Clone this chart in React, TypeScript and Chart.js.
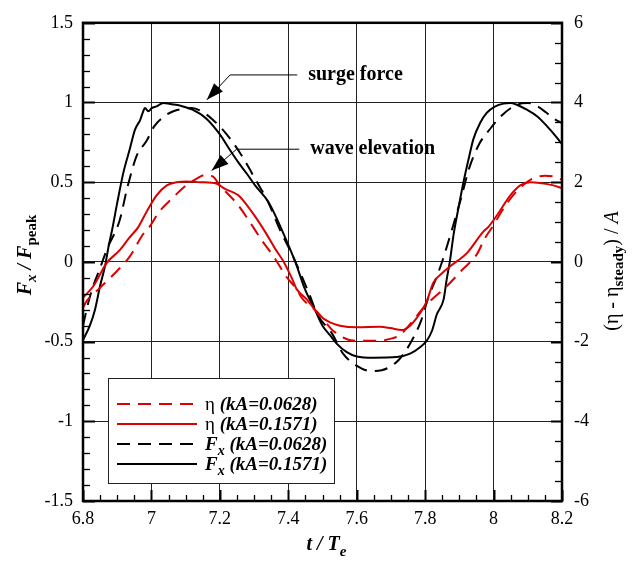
import React, { useEffect, useRef } from "react";
import { Chart, registerables } from "chart.js";
Chart.register(...registerables);

// ---- data (t / Te) ----
// F_x / F_peak, kA = 0.0628 (dashed black)
const fxDashT = [6.8, 6.815, 6.83, 6.848, 6.87, 6.907, 6.93, 6.957, 6.986, 7.008, 7.035, 7.064, 7.09, 7.118, 7.15, 7.181, 7.22, 7.26, 7.306, 7.34, 7.376, 7.411, 7.461, 7.484, 7.528, 7.56, 7.615, 7.645, 7.673, 7.724, 7.762, 7.788, 7.81, 7.838, 7.857, 7.878, 7.905, 7.929, 7.958, 7.992, 8.02, 8.051, 8.083, 8.1, 8.125, 8.152, 8.175, 8.2];
const fxDashV = [-0.4, -0.26, -0.15, -0.05, 0.08, 0.26, 0.47, 0.666, 0.76, 0.85, 0.91, 0.945, 0.96, 0.965, 0.94, 0.889, 0.8, 0.68, 0.51, 0.38, 0.2, 0.047, -0.2, -0.326, -0.45, -0.575, -0.67, -0.685, -0.68, -0.612, -0.49, -0.37, -0.22, -0.07, 0.05, 0.2, 0.4, 0.59, 0.74, 0.84, 0.91, 0.966, 0.995, 0.997, 0.98, 0.94, 0.9, 0.87];
// F_x / F_peak, kA = 0.1571 (solid black)
const fxSolidT = [6.8, 6.82, 6.835, 6.85, 6.865, 6.875, 6.885, 6.9, 6.918, 6.937, 6.952, 6.967, 6.976, 6.981, 6.991, 7.001, 7.015, 7.035, 7.055, 7.085, 7.12, 7.16, 7.2, 7.23, 7.254, 7.28, 7.303, 7.342, 7.371, 7.4, 7.42, 7.449, 7.48, 7.5, 7.522, 7.542, 7.571, 7.6, 7.649, 7.717, 7.756, 7.785, 7.805, 7.82, 7.834, 7.854, 7.863, 7.873, 7.883, 7.897, 7.912, 7.927, 7.941, 7.961, 7.98, 8.005, 8.029, 8.049, 8.068, 8.097, 8.127, 8.156, 8.185, 8.2];
const fxSolidV = [-0.49, -0.4, -0.3, -0.15, -0.02, 0.1, 0.2, 0.37, 0.56, 0.71, 0.83, 0.89, 0.945, 0.965, 0.945, 0.965, 0.976, 0.997, 0.99, 0.98, 0.955, 0.9, 0.8, 0.7, 0.624, 0.55, 0.48, 0.376, 0.25, 0.107, 0.003, -0.173, -0.31, -0.4, -0.46, -0.514, -0.566, -0.593, -0.601, -0.597, -0.576, -0.535, -0.494, -0.432, -0.33, -0.235, -0.11, 0.014, 0.17, 0.334, 0.5, 0.645, 0.77, 0.873, 0.935, 0.976, 0.993, 0.997, 0.986, 0.955, 0.914, 0.852, 0.78, 0.738];
// (eta - eta_steady) / A, kA = 0.0628 (dashed red)
const etaDashT = [6.8, 6.811, 6.845, 6.898, 6.937, 6.976, 6.991, 7.023, 7.059, 7.101, 7.13, 7.157, 7.18, 7.2, 7.254, 7.283, 7.322, 7.359, 7.395, 7.425, 7.439, 7.486, 7.53, 7.595, 7.659, 7.703, 7.727, 7.762, 7.792, 7.815, 7.863, 7.907, 7.951, 7.975, 8.0, 8.023, 8.062, 8.111, 8.15, 8.174, 8.2];
const etaDashV = [-1.15, -0.98, -0.69, -0.24, 0.14, 0.7, 0.84, 1.26, 1.58, 1.92, 2.08, 2.18, 2.14, 1.92, 1.42, 1.06, 0.55, 0.11, -0.38, -0.69, -0.9, -1.27, -1.72, -1.98, -1.98, -1.92, -1.83, -1.5, -1.18, -0.98, -0.61, -0.21, 0.19, 0.6, 0.92, 1.26, 1.72, 2.08, 2.16, 2.15, 2.06];
// (eta - eta_steady) / A, kA = 0.1571 (solid red)
const etaSolidT = [6.8, 6.83, 6.869, 6.908, 6.935, 6.962, 6.986, 7.015, 7.045, 7.074, 7.103, 7.142, 7.191, 7.215, 7.254, 7.293, 7.332, 7.361, 7.386, 7.41, 7.425, 7.454, 7.493, 7.522, 7.551, 7.6, 7.668, 7.698, 7.732, 7.756, 7.776, 7.795, 7.805, 7.824, 7.85, 7.873, 7.922, 7.97, 7.985, 8.01, 8.049, 8.078, 8.107, 8.136, 8.175, 8.2];
const etaSolidV = [-0.9, -0.61, -0.03, 0.3, 0.6, 0.88, 1.26, 1.67, 1.92, 2.0, 2.02, 2.0, 1.96, 1.83, 1.67, 1.26, 0.76, 0.34, 0.01, -0.4, -0.69, -0.94, -1.36, -1.52, -1.6, -1.64, -1.63, -1.66, -1.71, -1.6, -1.4, -1.15, -0.98, -0.52, -0.28, -0.11, 0.22, 0.76, 0.88, 1.17, 1.67, 1.92, 2.0, 1.98, 1.92, 1.85];

const seriesLabels = ["η (kA=0.0628)", "η (kA=0.1571)", "F_x (kA=0.0628)", "F_x (kA=0.1571)"];

// annotation anchors (t, Fx/Fpeak): tip, elbow, end
const surgeArrow = [7.162, 1.017, 7.23, 1.173, 7.426, 1.173];
const waveArrow = [7.176, 0.573, 7.249, 0.707, 7.432, 0.707];
const annotationTexts = ["surge force", "wave elevation"];

const xMin = 6.8, xMax = 8.2, xStep = 0.2, xMinor = 0.05;
const yMin = -1.5, yMax = 1.5, yStep = 0.5, yMinor = 0.1;
const y2Min = -6, y2Max = 6, y2Step = 2, y2Minor = 0.5;

const RED = "#dc0000";
const SERIF = "'Liberation Serif', 'Times New Roman', serif";
const DASH = [13, 8];

const zip = (t: number[], v: number[]) => t.map((x, i) => ({ x, y: v[i] }));
const fmt = (v: number) => String(Math.round(v * 1000) / 1000);

type Part = { text: string; font: string; dy?: number };
function drawParts(ctx: CanvasRenderingContext2D, parts: Part[], x: number, y: number, align: "center" | "left") {
  let total = 0;
  const widths = parts.map((p) => {
    ctx.font = p.font;
    const w = ctx.measureText(p.text).width;
    total += w;
    return w;
  });
  let cx = align === "center" ? x - total / 2 : x;
  ctx.textAlign = "left";
  ctx.textBaseline = "alphabetic";
  parts.forEach((p, i) => {
    ctx.font = p.font;
    ctx.fillText(p.text, cx, y + (p.dy || 0));
    cx += widths[i];
  });
}

const decorPlugin = {
  id: "decor",
  afterDraw(chart: any) {
    const ctx: CanvasRenderingContext2D = chart.ctx;
    const { left, right, top, bottom } = chart.chartArea;
    const xs = chart.scales.x, ys = chart.scales.y, y2s = chart.scales.y2;
    ctx.save();
    ctx.strokeStyle = "#000";
    ctx.fillStyle = "#000";

    // ticks (inward)
    const nX = Math.round((xMax - xMin) / xMinor);
    const xMajorEvery = Math.round(xStep / xMinor);
    for (let k = 0; k <= nX; k++) {
      const px = Math.round(xs.getPixelForValue(xMin + k * xMinor)) + 0.5;
      const major = k % xMajorEvery === 0;
      ctx.lineWidth = major ? 2 : 1.3;
      ctx.beginPath();
      ctx.moveTo(px, bottom);
      ctx.lineTo(px, bottom - (major ? 11 : 6));
      ctx.stroke();
    }
    const nY = Math.round((yMax - yMin) / yMinor);
    const yMajorEvery = Math.round(yStep / yMinor);
    for (let k = 0; k <= nY; k++) {
      const py = Math.round(ys.getPixelForValue(yMin + k * yMinor)) + 0.5;
      const major = k % yMajorEvery === 0;
      ctx.lineWidth = major ? 2 : 1.3;
      ctx.beginPath();
      ctx.moveTo(left, py);
      ctx.lineTo(left + (major ? 12 : 7), py);
      ctx.stroke();
    }
    const nY2 = Math.round((y2Max - y2Min) / y2Minor);
    const y2MajorEvery = Math.round(y2Step / y2Minor);
    for (let k = 0; k <= nY2; k++) {
      const py = Math.round(y2s.getPixelForValue(y2Min + k * y2Minor)) + 0.5;
      const major = k % y2MajorEvery === 0;
      ctx.lineWidth = major ? 2 : 1.3;
      ctx.beginPath();
      ctx.moveTo(right, py);
      ctx.lineTo(right - (major ? 11 : 7), py);
      ctx.stroke();
    }

    // frame
    ctx.lineWidth = 2.5;
    ctx.strokeRect(left, top, right - left, bottom - top);

    // annotations
    const arrows = [surgeArrow, waveArrow];
    arrows.forEach((a, i) => {
      const tipX = xs.getPixelForValue(a[0]), tipY = ys.getPixelForValue(a[1]);
      const elX = xs.getPixelForValue(a[2]), elY = ys.getPixelForValue(a[3]);
      const endX = xs.getPixelForValue(a[4]), endY = ys.getPixelForValue(a[5]);
      ctx.lineWidth = 1;
      ctx.beginPath();
      ctx.moveTo(endX, endY);
      ctx.lineTo(elX, elY);
      ctx.lineTo(tipX, tipY);
      ctx.stroke();
      const ang = Math.atan2(tipY - elY, tipX - elX);
      const L = 17, W = 6;
      const bx = tipX - L * Math.cos(ang), by = tipY - L * Math.sin(ang);
      ctx.beginPath();
      ctx.moveTo(tipX, tipY);
      ctx.lineTo(bx + W * Math.sin(ang), by - W * Math.cos(ang));
      ctx.lineTo(bx - W * Math.sin(ang), by + W * Math.cos(ang));
      ctx.closePath();
      ctx.fill();
      ctx.font = `bold 20px ${SERIF}`;
      ctx.textAlign = "left";
      ctx.textBaseline = "middle";
      ctx.fillText(annotationTexts[i], endX + 11, endY);
    });

    // legend
    const lx = 108, ly = 378, lw = 226, lh = 105;
    ctx.fillStyle = "#fff";
    ctx.fillRect(lx, ly, lw, lh);
    ctx.strokeStyle = "#222";
    ctx.lineWidth = 1;
    ctx.strokeRect(lx + 0.5, ly + 0.5, lw, lh);
    const ds = chart.data.datasets;
    const bi = `italic bold 19px ${SERIF}`;
    seriesLabels.forEach((lab, i) => {
      const d = ds[i];
      const ry = ly + 26 + i * 20;
      ctx.save();
      ctx.strokeStyle = d.borderColor;
      ctx.lineWidth = 2;
      ctx.setLineDash(d.borderDash || []);
      ctx.beginPath();
      ctx.moveTo(lx + 9, ry);
      ctx.lineTo(lx + 89, ry);
      ctx.stroke();
      ctx.restore();
      ctx.fillStyle = "#000";
      const rest = lab.replace(/^(η|F_x)/, "");
      const parts: Part[] = lab.startsWith("η")
        ? [{ text: "η", font: `19px ${SERIF}` }, { text: rest, font: bi }]
        : [{ text: "F", font: bi }, { text: "x", font: `italic bold 14px ${SERIF}`, dy: 5 }, { text: rest, font: bi }];
      drawParts(ctx, parts, lx + 97, ry + 6, "left");
    });

    // axis titles
    ctx.fillStyle = "#000";
    const T = 20, S = 15;
    drawParts(ctx, [
      { text: "t / T", font: `italic bold ${T}px ${SERIF}` },
      { text: "e", font: `italic bold ${S}px ${SERIF}`, dy: 6 },
    ], (left + right) / 2 + 4, 550, "center");

    ctx.save();
    ctx.translate(31, 255);
    ctx.rotate(-Math.PI / 2);
    drawParts(ctx, [
      { text: "F", font: `italic bold ${T}px ${SERIF}` },
      { text: "x", font: `italic bold ${S}px ${SERIF}`, dy: 5 },
      { text: " / F", font: `italic bold ${T}px ${SERIF}` },
      { text: "peak", font: `bold ${S}px ${SERIF}`, dy: 5 },
    ], 0, 0, "center");
    ctx.restore();

    ctx.save();
    ctx.translate(618, 271);
    ctx.rotate(-Math.PI / 2);
    drawParts(ctx, [
      { text: "(η - η", font: `${T}px ${SERIF}` },
      { text: "steady", font: `bold ${S}px ${SERIF}`, dy: 5 },
      { text: ") / ", font: `${T}px ${SERIF}` },
      { text: "A", font: `italic ${T}px ${SERIF}` },
    ], 0, 0, "center");
    ctx.restore();

    ctx.restore();
  },
};

export default function App() {
  const ref = useRef<HTMLCanvasElement>(null);
  useEffect(() => {
    const canvas = ref.current!;
    const tickFont = { family: SERIF, size: 18 };
    const chart = new Chart(canvas, {
      type: "line",
      data: {
        datasets: [
          { label: seriesLabels[0], data: zip(etaDashT, etaDashV), yAxisID: "y2", borderColor: RED, borderDash: DASH, borderWidth: 2, pointRadius: 0, cubicInterpolationMode: "monotone" },
          { label: seriesLabels[1], data: zip(etaSolidT, etaSolidV), yAxisID: "y2", borderColor: RED, borderWidth: 2, pointRadius: 0, cubicInterpolationMode: "monotone" },
          { label: seriesLabels[2], data: zip(fxDashT, fxDashV), yAxisID: "y", borderColor: "#000", borderDash: DASH, borderWidth: 2, pointRadius: 0, cubicInterpolationMode: "monotone" },
          { label: seriesLabels[3], data: zip(fxSolidT, fxSolidV), yAxisID: "y", borderColor: "#000", borderWidth: 2, pointRadius: 0, cubicInterpolationMode: "monotone" },
        ] as any,
      },
      options: {
        animation: false,
        responsive: false,
        devicePixelRatio: 1,
        layout: { padding: { top: 19, left: 0, right: 0, bottom: 0 } },
        plugins: { legend: { display: false }, tooltip: { enabled: false } },
        scales: {
          x: {
            type: "linear",
            min: xMin,
            max: xMax,
            ticks: { stepSize: xStep, font: tickFont, color: "#000", padding: 7, callback: (v: any) => fmt(v) },
            grid: { color: "#222", lineWidth: 1, drawTicks: false },
            border: { display: false },
            afterFit: (s: any) => { s.height = 61; },
          },
          y: {
            position: "left",
            min: yMin,
            max: yMax,
            ticks: { stepSize: yStep, font: tickFont, color: "#000", padding: 10, callback: (v: any) => fmt(v) },
            grid: { color: "#222", lineWidth: 1, drawTicks: false },
            border: { display: false },
            afterFit: (s: any) => { s.width = 83; },
          },
          y2: {
            position: "right",
            min: y2Min,
            max: y2Max,
            ticks: { stepSize: y2Step, font: tickFont, color: "#000", padding: 12, callback: (v: any) => fmt(v) },
            grid: { display: false, drawTicks: false },
            border: { display: false },
            afterFit: (s: any) => { s.width = 76; },
          },
        },
      } as any,
      plugins: [decorPlugin],
    });
    return () => chart.destroy();
  }, []);
  return (
    <canvas
      ref={ref}
      width={638}
      height={562}
      style={{ position: "fixed", left: 0, top: 0, width: 638, height: 562, background: "#fff" }}
    />
  );
}
